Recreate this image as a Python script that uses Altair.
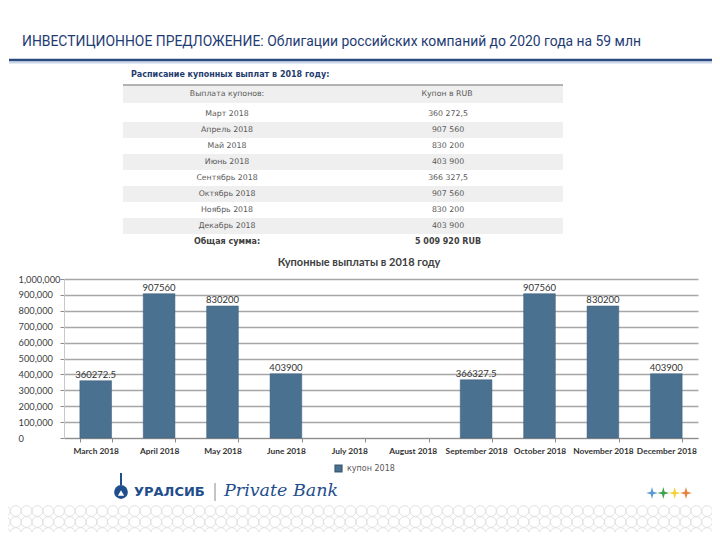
import altair as alt
import pandas as pd

# ---- data -------------------------------------------------------------
title_text = "ИНВЕСТИЦИОННОЕ ПРЕДЛОЖЕНИЕ: Облигации российских компаний до 2020 года на 59 млн"
table_caption = "Расписание купонных выплат в 2018 году:"
table_headers = ["Выплата купонов:", "Купон в RUB"]
table_months = ["Март 2018", "Апрель 2018", "Май 2018", "Июнь 2018",
                "Сентябрь 2018", "Октябрь 2018", "Ноябрь 2018", "Декабрь 2018"]
table_values = ["360 272,5", "907 560", "830 200", "403 900",
                "366 327,5", "907 560", "830 200", "403 900"]
total_label = "Общая сумма:"
total_value = "5 009 920 RUB"

chart_title = "Купонные выплаты в 2018 году"
chart_months = ["March 2018", "April 2018", "May 2018", "June 2018", "July 2018",
                "August 2018", "September 2018", "October 2018", "November 2018",
                "December 2018"]
chart_values = [360272.5, 907560, 830200, 403900, None, None,
                366327.5, 907560, 830200, 403900]
series_name = "купон 2018"
y_ticks = [0, 100000, 200000, 300000, 400000, 500000, 600000, 700000, 800000, 900000, 1000000]

BAR = "#4b7190"
NAVY = "#1f3c74"
TXT = "#595959"
CHART_FONT = "Lato"
TABLE_FONT = "DejaVu Sans"


def fmt(v):
    return str(v) if v % 1 else str(int(v))


# ---- tables -------------------------------------------------------------
bars_df = pd.DataFrame({"month": chart_months, "value": chart_values, "series": series_name})
bars_df = bars_df.dropna()
bars_df["label"] = bars_df["value"].map(fmt)

idx = list(range(len(table_months)))
rows_df = pd.DataFrame({"i": idx, "month": table_months, "coupon": table_values})
stripe_df = rows_df[rows_df["i"] % 2 == 1]

x_scale = alt.Scale(domain=chart_months, paddingInner=0.5, paddingOuter=0.25)
y_scale = alt.Scale(domain=[0, 1000000])

# table row layout scales (pixel ranges relative to the plot origin)
row_pos = alt.Scale(type="point", domain=idx, range=[-165, -53], padding=0)
row_band = alt.Scale(type="band", domain=idx, range=[-173, -45], padding=0)

base = alt.Chart(bars_df)

bars = base.mark_bar(stroke="#3d5d78", strokeWidth=0.5).encode(
    x=alt.X("month:N", scale=x_scale, sort=chart_months, title=None,
            axis=alt.Axis(labelAngle=0, tickBand="extent", labelFont=CHART_FONT,
                          labelFontSize=8.4, labelFontWeight="bold", labelColor="#333333",
                          domainColor="#8c8c8c", tickColor="#8c8c8c", tickSize=4,
                          labelPadding=4, grid=False)),
    y=alt.Y("value:Q", scale=y_scale, title=None,
            axis=alt.Axis(values=y_ticks, format=",.0f", labelFont=CHART_FONT, labelFontSize=9.3,
                          labelColor="#404040", labelAlign="left", labelPadding=42,
                          grid=True, gridColor="#a6a6a6", gridWidth=1.3,
                          domainColor="#c8c8c8", tickColor="#8c8c8c", tickSize=4)),
    color=alt.Color("series:N", scale=alt.Scale(domain=[series_name], range=[BAR]),
                    legend=alt.Legend(title=None, orient="none", legendX=270, legendY=185,
                                      symbolType="square", symbolSize=45,
                                      labelFont=TABLE_FONT, labelFontSize=8,
                                      labelColor=TXT)),
)

bar_labels = base.mark_text(dy=-6, font=CHART_FONT, fontSize=9.5, color="#333333").encode(
    x=alt.X("month:N", scale=x_scale, sort=chart_months, axis=None),
    y=alt.Y("value:Q", scale=y_scale, axis=None),
    text="label:N",
)

one = pd.DataFrame({"a": [0]})

chart_title_mark = alt.Chart(pd.DataFrame({"t": [chart_title]})).mark_text(
    font=CHART_FONT, fontSize=11, fontWeight="bold", color="#404040"
).encode(x=alt.value(295), y=alt.value(-16), text="t:N")

# page title + rule
title_mark = alt.Chart(pd.DataFrame({"t": [title_text]})).mark_text(
    font="Roboto", fontSize=13.9, color=NAVY, align="left", baseline="middle"
).encode(x=alt.value(-42), y=alt.value(-237), text="t:N")

rule_shadow = alt.Chart(one).mark_rule(color="#c9d6e8", strokeWidth=2).encode(
    x=alt.value(-55), x2=alt.value(648), y=alt.value(-216.5))
rule_main = alt.Chart(one).mark_rule(color="#2a4a80", strokeWidth=2.6).encode(
    x=alt.value(-55), x2=alt.value(648), y=alt.value(-219))

# table
caption_mark = alt.Chart(pd.DataFrame({"t": [table_caption]})).mark_text(
    font=TABLE_FONT, fontSize=8, fontWeight="bold", color="#1f3c6e", align="left"
).encode(x=alt.value(67), y=alt.value(-204), text="t:N")

header_bg = alt.Chart(one).mark_rect(color="#efefef").encode(
    x=alt.value(59), x2=alt.value(499), y=alt.value(-193.5), y2=alt.value(-176))
header_line = alt.Chart(one).mark_rule(color="#9a9a9a", strokeWidth=1.5).encode(
    x=alt.value(59), x2=alt.value(499), y=alt.value(-194))
header_left = alt.Chart(pd.DataFrame({"h": [table_headers[0]]})).mark_text(
    font=TABLE_FONT, fontSize=7.8, color=TXT
).encode(x=alt.value(163), y=alt.value(-185), text="h:N")
header_right = alt.Chart(pd.DataFrame({"h": [table_headers[1]]})).mark_text(
    font=TABLE_FONT, fontSize=7.8, color=TXT
).encode(x=alt.value(383), y=alt.value(-185), text="h:N")

stripes = alt.Chart(stripe_df).mark_rect(color="#efefef").encode(
    x=alt.value(59), x2=alt.value(499),
    y=alt.Y("i:O", scale=row_band, axis=None))

row_months = alt.Chart(rows_df).mark_text(font=TABLE_FONT, fontSize=7.8, color=TXT).encode(
    x=alt.value(163), y=alt.Y("i:O", scale=row_pos, axis=None), text="month:N")
row_values = alt.Chart(rows_df).mark_text(font=TABLE_FONT, fontSize=7.8, color=TXT).encode(
    x=alt.value(384), y=alt.Y("i:O", scale=row_pos, axis=None), text="coupon:N")

total_left = alt.Chart(pd.DataFrame({"t": [total_label]})).mark_text(
    font=TABLE_FONT, fontSize=8, fontWeight="bold", color="#404040"
).encode(x=alt.value(163), y=alt.value(-37), text="t:N")
total_right = alt.Chart(pd.DataFrame({"t": [total_value]})).mark_text(
    font=TABLE_FONT, fontSize=8, fontWeight="bold", color="#404040"
).encode(x=alt.value(384), y=alt.value(-37), text="t:N")

# logo / footer decoration
logo_circle = alt.Chart(one).mark_point(
    shape="circle", filled=True, size=190, color="#1f4e8c", opacity=1
).encode(x=alt.value(57), y=alt.value(213))
logo_spike = alt.Chart(one).mark_rule(color="#1f4e8c", strokeWidth=2).encode(
    x=alt.value(57), y=alt.value(194), y2=alt.value(206))
logo_inner = alt.Chart(one).mark_point(
    shape="triangle-up", filled=True, size=40, color="white", opacity=1
).encode(x=alt.value(57), y=alt.value(214))
logo_text = alt.Chart(pd.DataFrame({"t": ["УРАЛСИБ"]})).mark_text(
    font=TABLE_FONT, fontSize=13, fontWeight="bold", color="#1f4e8c", align="left"
).encode(x=alt.value(70), y=alt.value(213), text="t:N")
logo_sep = alt.Chart(one).mark_rule(color="#8a8a8a", strokeWidth=1).encode(
    x=alt.value(151), y=alt.value(204), y2=alt.value(222))
logo_script = alt.Chart(pd.DataFrame({"t": ["Private Bank"]})).mark_text(
    font="DejaVu Serif", fontSize=17.5, fontStyle="italic", color="#1f4e8c", align="left"
).encode(x=alt.value(160), y=alt.value(212), text="t:N")

star = "M0,-1 L0.22,-0.22 L1,0 L0.22,0.22 L0,1 L-0.22,0.22 L-1,0 L-0.22,-0.22 Z"
star_keys = ["a", "b", "c", "d"]
stars_df = pd.DataFrame({"k": star_keys})
stars = alt.Chart(stars_df).mark_point(shape=star, filled=True, size=140, opacity=1).encode(
    x=alt.X("k:N", scale=alt.Scale(type="point", domain=star_keys, range=[588, 622], padding=0),
            axis=None),
    y=alt.value(214),
    fill=alt.Fill("k:N", scale=alt.Scale(domain=star_keys,
                                        range=["#5b9bd5", "#3fa34d", "#f2d43a", "#e8823a"]),
                  legend=None))

circles = alt.Chart(alt.sequence(0, 201, as_="i")).transform_calculate(
    col="datum.i % 67", row="floor(datum.i / 67)"
).mark_point(shape="circle", size=115, color="#e2e2e2", strokeWidth=1, opacity=1).encode(
    x=alt.X("col:Q", scale=alt.Scale(domain=[0, 66], range=[-59, -59 + 66 * 10.8]), axis=None),
    y=alt.Y("row:Q", scale=alt.Scale(domain=[0, 2], range=[232, 254]), axis=None))

chart = alt.layer(
    circles, title_mark, rule_shadow, rule_main, caption_mark, header_bg, stripes, header_line,
    header_left, header_right, row_months, row_values, total_left, total_right,
    chart_title_mark, bars, bar_labels, logo_circle, logo_spike, logo_inner, logo_text,
    logo_sep, logo_script, stars,
).resolve_scale(
    x="independent", y="independent", color="independent", fill="independent"
).properties(
    width=634, height=159,
    autosize=alt.AutoSizeParams(type="none"),
    padding={"left": 56, "top": 271, "right": 14, "bottom": 94},
).configure_view(stroke=None)

chart.save("out.html", embed_options={"renderer": "svg", "actions": False})
